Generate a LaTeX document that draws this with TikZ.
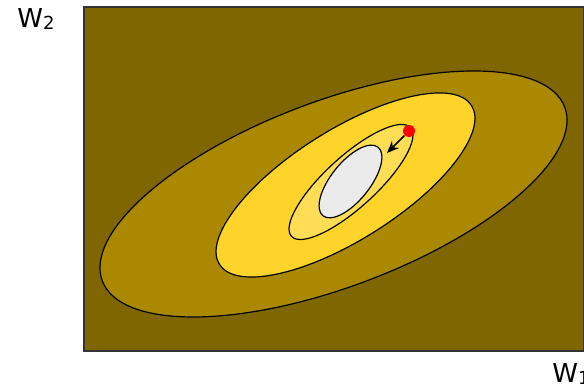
\documentclass[tikz,border=0pt]{standalone}
\usepackage{fontspec}
\setmainfont{DejaVu Sans}
\usetikzlibrary{arrows.meta}
\definecolor{bgolive}{HTML}{806600}
\definecolor{ringgold}{HTML}{AA8800}
\definecolor{ringyellow}{HTML}{FFD42A}
\definecolor{ringlight}{HTML}{FFDD55}
\definecolor{coregray}{HTML}{EBEBEB}
\newcommand{\wsub}[1]{\raisebox{-1pt}{\fontsize{9}{10}\selectfont #1}}
\begin{document}
\begin{tikzpicture}[x=0.5pt,y=0.5pt]
\useasboundingbox (0,0) rectangle (584,389);
\filldraw[fill=bgolive, draw=black!80, line width=0.6pt] (84,38) rectangle (584,382);
\filldraw[fill=ringgold, draw=black, line width=0.6pt, rotate around={20.6:(333.5,195)}] (333.5,195) ellipse (247 and 93);
\filldraw[fill=ringyellow, draw=black, line width=0.6pt, rotate around={32.2:(345.5,204)}] (345.5,204) ellipse (149 and 55);
\filldraw[fill=ringlight, draw=black, line width=0.6pt, rotate around={42.4:(351,207)}] (351,207) ellipse (80.6 and 25.5);
\filldraw[fill=coregray, draw=black, line width=0.6pt, rotate around={51.2:(350.5,207.5)}] (350.5,207.5) ellipse (44 and 19.3);
\node[circle, fill=red, inner sep=0pt, minimum size=6pt] (start) at (409,258) {};
\coordinate (step) at (387,236);
\draw[black, line width=0.8pt, -{Stealth[length=6pt, width=5pt]}] (start) -- (step);
\node[anchor=base west, font=\fontsize{13}{15}\selectfont, inner sep=0pt] (wtwo) at (17,361) {W\wsub{2}};
\node[anchor=base west, font=\fontsize{13}{15}\selectfont, inner sep=0pt] (wone) at (552,6) {W\wsub{1}};
\end{tikzpicture}
\end{document}
